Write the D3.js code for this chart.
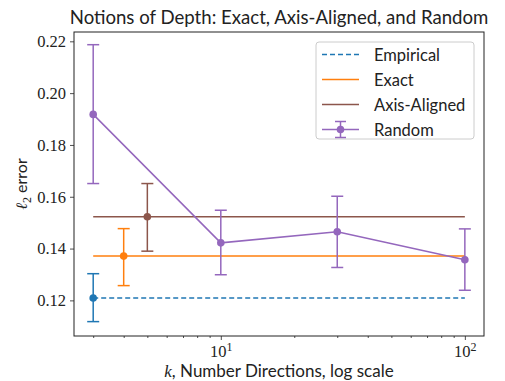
<!DOCTYPE html>
<html>
<head>
<meta charset="utf-8">
<script src="https://cdn.jsdelivr.net/npm/d3@7"></script>
<style>
  body { margin: 0; background: #fff; }
  .tick text { font-family: "Liberation Serif", serif; font-size: 16.5px; fill: #222; }
</style>
</head>
<body>
<div id="chart"></div>
<script>
// data
var randomK = [3, 10, 30, 100],
    randomMean = [0.1918, 0.1422, 0.1465, 0.1357],
    randomLo = [0.1651, 0.1299, 0.1327, 0.1239],
    randomHi = [0.2187, 0.1548, 0.1602, 0.1476];

var empirical = {k: 3, mean: 0.1209, lo: 0.1118, hi: 0.1303};
var exact = {k: 4, mean: 0.1371, lo: 0.1257, hi: 0.1477};
var axisAligned = {k: 5, mean: 0.1523, lo: 0.1390, hi: 0.1651};
var lineRange = [3, 100];

var yTicks = [0.12, 0.14, 0.16, 0.18, 0.20, 0.22];
var xMajor = [10, 100];
var xMinor = [3, 4, 5, 6, 7, 8, 9, 20, 30, 40, 50, 60, 70, 80, 90];

var colors = {empirical: "#1f77b4", exact: "#ff7f0e", axis: "#8c564b", random: "#9467bd"};

var margin = {top: 32, right: 21, bottom: 45, left: 74},
    W = 505, H = 381,
    width = W - margin.left - margin.right,
    height = H - margin.top - margin.bottom;

var svg = d3.select("#chart").append("svg")
    .attr("width", W)
    .attr("height", H);

var x = d3.scaleLog().domain([2.503, 119.8]).range([0, width]);
var y = d3.scaleLinear().domain([0.10625, 0.2236]).range([height, 0]);

var g = svg.append("g").attr("transform", "translate(" + margin.left + "," + margin.top + ")");

// axes
var xAxis = d3.axisBottom(x).tickValues(xMajor).tickSize(4).tickPadding(5).tickFormat(function() { return ""; });
var gx = g.append("g").attr("transform", "translate(0," + height + ")").call(xAxis);
gx.selectAll(".tick").each(function(d) {
  var t = d3.select(this).select("text");
  t.attr("dy", null).attr("y", 21).text("10");
  t.append("tspan").text(Math.round(Math.log10(d))).attr("dy", "-6").attr("font-size", "12px");
});
g.append("g").attr("transform", "translate(0," + height + ")")
  .call(d3.axisBottom(x).tickValues(xMinor).tickSize(2).tickFormat(""));

var yAxis = d3.axisLeft(y).tickValues(yTicks).tickSize(4).tickPadding(4).tickFormat(d3.format(".2f"));
g.append("g").call(yAxis);

g.selectAll(".domain").remove();
g.selectAll(".tick line").attr("stroke", "#222").attr("stroke-width", 0.8);

// frame
g.append("rect").attr("width", width).attr("height", height)
  .attr("fill", "none").attr("stroke", "#222").attr("stroke-width", 1);

// horizontal reference lines
function refLine(d, color, dash) {
  g.append("line")
    .attr("x1", x(lineRange[0])).attr("x2", x(lineRange[1]))
    .attr("y1", y(d.mean)).attr("y2", y(d.mean))
    .attr("stroke", color).attr("stroke-width", 1.5)
    .attr("stroke-dasharray", dash || null);
}
function errPoint(k, m, lo, hi, color) {
  var cx = x(k);
  g.append("line").attr("x1", cx).attr("x2", cx).attr("y1", y(lo)).attr("y2", y(hi))
    .attr("stroke", color).attr("stroke-width", 1.5);
  [lo, hi].forEach(function(v) {
    g.append("line").attr("x1", cx - 6).attr("x2", cx + 6).attr("y1", y(v)).attr("y2", y(v))
      .attr("stroke", color).attr("stroke-width", 1.5);
  });
  g.append("circle").attr("cx", cx).attr("cy", y(m)).attr("r", 3.8).attr("fill", color);
}

refLine(empirical, colors.empirical, "5,3");
errPoint(empirical.k, empirical.mean, empirical.lo, empirical.hi, colors.empirical);
refLine(exact, colors.exact);
errPoint(exact.k, exact.mean, exact.lo, exact.hi, colors.exact);
refLine(axisAligned, colors.axis);
errPoint(axisAligned.k, axisAligned.mean, axisAligned.lo, axisAligned.hi, colors.axis);

// random
var line = d3.line().x(function(d, i) { return x(randomK[i]); }).y(function(d) { return y(d); });
g.append("path").datum(randomMean).attr("d", line)
  .attr("fill", "none").attr("stroke", colors.random).attr("stroke-width", 1.5);
randomK.forEach(function(k, i) {
  errPoint(k, randomMean[i], randomLo[i], randomHi[i], colors.random);
});

// title and labels
svg.append("text")
  .attr("x", margin.left + width / 2).attr("y", 24)
  .attr("text-anchor", "middle")
  .style("font-family", "Lato, sans-serif").style("font-size", "18.6px").style("fill", "#222")
  .text("Notions of Depth: Exact, Axis-Aligned, and Random");

var xl = svg.append("text")
  .attr("x", margin.left + width / 2).attr("y", 377)
  .attr("text-anchor", "middle")
  .style("font-family", "Lato, sans-serif").style("font-size", "17px").style("fill", "#222");
xl.append("tspan").text("k").style("font-family", "Liberation Serif, serif").style("font-style", "italic");
xl.append("tspan").text(", Number Directions, log scale");

var yl = svg.append("text")
  .attr("transform", "translate(27," + (margin.top + height / 2) + ") rotate(-90)")
  .attr("text-anchor", "middle")
  .style("font-family", "Lato, sans-serif").style("font-size", "16px").style("fill", "#222");
yl.append("tspan").text("ℓ").style("font-family", "DejaVu Serif, serif").style("font-style", "italic");
yl.append("tspan").text("2").attr("dy", "4").style("font-family", "Liberation Serif, serif").style("font-size", "12px");
yl.append("tspan").text(" error").attr("dy", "-4");

// legend
var legend = svg.append("g").attr("transform", "translate(316,42)");
legend.append("rect").attr("width", 158).attr("height", 97).attr("rx", 3)
  .attr("fill", "#fff").attr("fill-opacity", 0.8).attr("stroke", "#ccc").attr("stroke-width", 1);
var items = [
  {label: "Empirical", color: colors.empirical, dash: "5,3"},
  {label: "Exact", color: colors.exact},
  {label: "Axis-Aligned", color: colors.axis},
  {label: "Random", color: colors.random, marker: true}
];
items.forEach(function(d, i) {
  var ly = 12.5 + i * 25;
  var row = legend.append("g").attr("transform", "translate(0," + ly + ")");
  row.append("line").attr("x1", 6).attr("x2", 43).attr("y1", 0).attr("y2", 0)
    .attr("stroke", d.color).attr("stroke-width", 1.5).attr("stroke-dasharray", d.dash || null);
  if (d.marker) {
    row.append("line").attr("x1", 24.5).attr("x2", 24.5).attr("y1", -8).attr("y2", 8)
      .attr("stroke", d.color).attr("stroke-width", 1.5);
    row.append("line").attr("x1", 19).attr("x2", 30).attr("y1", -8).attr("y2", -8)
      .attr("stroke", d.color).attr("stroke-width", 1.5);
    row.append("line").attr("x1", 19).attr("x2", 30).attr("y1", 8).attr("y2", 8)
      .attr("stroke", d.color).attr("stroke-width", 1.5);
    row.append("circle").attr("cx", 24.5).attr("cy", 0).attr("r", 3.8).attr("fill", d.color);
  }
  row.append("text").attr("x", 58).attr("y", 6)
    .style("font-family", "Lato, sans-serif").style("font-size", "16.5px").style("fill", "#222")
    .text(d.label);
});
</script>
</body>
</html>
